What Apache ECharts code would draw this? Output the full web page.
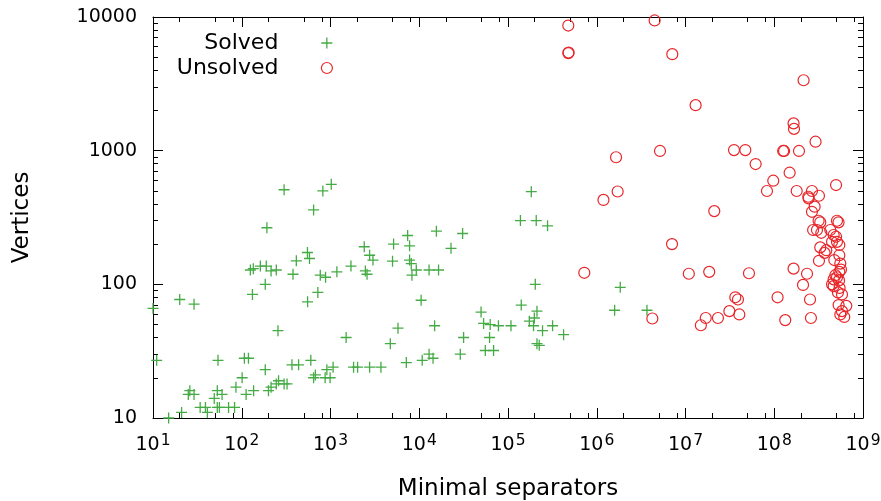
<!DOCTYPE html>
<html><head><meta charset="utf-8">
<script src="https://cdn.jsdelivr.net/npm/echarts/dist/echarts.min.js"></script>
<style>html,body{margin:0;padding:0;background:#fff}#c{width:881px;height:501px}</style>
</head><body><div id="c"></div>
<script>
const solvedX = [300,820,1020,645,192,550,580,412,125,135,162,189,214,245,378,767,880,1180,184,132,720,552,20,29,10,256,11,54,107,119,184,368,437,600,101,86,26,29,25,53,60,49,112,136,200,214,245,260,324,300,645,675,870,990,910,1070,34,39,41,53,56,71,83,21,15,
183000,138000,208000,279000,15600,30800,7400,2400,5140,7780,22800,2760,3010,1700,2470,2580,5000,7780,8130,9260,8280,12900,16500,10500,141000,49700,53100,63000,78000,108000,174000,14900,5760,1500,31600,62000,4720,55500,68800,12900,14300,29000,10800,7150,1820,2020,2760,3700,
203000,1840000,212000,1590000,3680000,198000,194000,245000,318000,423000,212000,225000];
const solvedY = [510,500,560,360,265,173,156,150,128,131,137,137,126,128,119,117,113,124,100,84,87,74,77,71,66,45,27,27,28,28,23,25,25,27,20,17,16,15,15,16,15,14,15,16,16,17,18,19,18,18,20,21,20,20,23,24,12,12,11,12,12,12,12,11,10,
493,300,300,274,250,240,232,191,200,194,186,165,152,137,126,119,149,152,143,128,117,128,128,76,70,62,51,50,49,49,53,49,47,40,40,40,36,32,32,30,28,30,27,26,24,24,24,24,
100,95,63,64,64,56,49,45,49,42,36,35];
const unsolvedX = [4.78e5,4.82e5,4.78e5,4.49e6,7.1e6,1.3e7,1.65e6,5.16e6,1.72e6,1.19e6,7.05e6,7.24e5,1.09e7,4.23e6,1.49e7,
2.14e8,1.65e8,1.67e8,2.92e8,3.52e7,4.72e7,1.29e8,1.26e8,1.9e8,6.17e7,1.49e8,9.75e7,8.28e7,1.79e8,4.97e8,2.66e8,2.42e8,2.44e8,3.19e8,
2.85e8,2.66e8,2.11e7,3.16e8,3.3e8,5.09e8,5.3e8,2.74e8,3.03e8,3.39e8,4.28e8,4.67e8,4.97e8,4.48e8,5.09e8,5.41e8,3.3e8,3.86e8,3.69e8,5.41e8,3.19e8,4.75e8,5.55e8,5.65e8,5.41e8,4.88e8,5.09e8,4.67e8,5.37e8,4.48e8,4.67e8,5.45e8,5.22e8,5.8e8,
1.65e8,2.34e8,2.11e8,2.53e8,1.09e8,5.19e7,1.85e7,3.64e7,3.9e7,3.12e7,4.04e7,2.32e7,1.69e7,1.33e8,2.59e8,5.31e8,6.48e8,5.8e8,5.55e8,6.15e8];
const unsolvedY = [8630,5420,5370,9420,5270,2190,893,995,495,428,200,122,120,55.5,49.4,
3365,1600,1455,1167,1010,1010,995,995,995,794,684,596,499,499,553,499,452,440,460,
381,349,353,299,291,299,291,255,255,243,255,234,227,208,208,197,189,180,172,165,150,152,143,129,124,117,113,109,107,100,97,94,87,84,
131,120,99,77,80,121,124,80,77,63,59.5,56,56,54,56,70,69,63,59.5,57];

const xMajor = [1e1,1e2,1e3,1e4,1e5,1e6,1e7,1e8,1e9];
const yMajor = [10,100,1000,10000];
const xMinorMant = [2,5,8];
const yMinorMant = [2,3,4,5,6,7,8,9];

const GREEN = '#45ab45', RED = '#e8262a';
const FONT = 'DejaVu Sans';
// minor tick positions expressed as decimal exponents (for overlay value axes)
const xMinorExp = [], yMinorExp = [];
xMajor.slice(0,-1).forEach(d => xMinorMant.forEach(m => xMinorExp.push(Math.log10(d*m))));
yMajor.slice(0,-1).forEach(d => yMinorMant.forEach(m => yMinorExp.push(Math.log10(d*m))));

const solved = solvedX.map((x,i) => [x, solvedY[i]]);
const unsolved = unsolvedX.map((x,i) => [x, unsolvedY[i]]);
const PLUS = 'path://M0,5H10M5,0V10';
const LINE = {color: '#000', width: 1};

function xMain(pos, labels) {
  return {
    type: 'log', logBase: 10, min: 10, max: 1e9, position: pos, splitNumber: 8,
    axisLine: {show: true, onZero: false, lineStyle: LINE},
    axisTick: {show: true, inside: true, length: 10, lineStyle: LINE},
    axisLabel: labels ? {show: true, margin: 15, color: '#000', fontFamily: FONT,
      formatter: v => '{b|10}{s|' + Math.round(Math.log10(v)) + '}',
      rich: {b: {fontSize: 19, fontFamily: FONT, color: '#000', lineHeight: 24},
             s: {fontSize: 15.5, fontFamily: FONT, color: '#000', lineHeight: 13, verticalAlign: 'top', padding: [0,0,0,1]}}} : {show: false},
    splitLine: {show: false}, minorTick: {show: false},
    name: labels ? 'Minimal separators' : '', nameLocation: 'middle', nameGap: 60,
    nameTextStyle: {fontSize: 23, fontFamily: FONT, color: '#000'}
  };
}
function yMain(pos, labels) {
  return {
    type: 'log', logBase: 10, min: 10, max: 10000, position: pos, splitNumber: 3,
    axisLine: {show: true, onZero: false, lineStyle: LINE},
    axisTick: {show: true, inside: true, length: 10, lineStyle: LINE},
    axisLabel: labels ? {show: true, margin: 16, color: '#000', fontSize: 19, fontFamily: FONT,
      formatter: v => String(Math.round(v))} : {show: false},
    splitLine: {show: false}, minorTick: {show: false},
    name: labels ? 'Vertices' : '', nameLocation: 'middle', nameGap: 119, nameRotate: 90,
    nameTextStyle: {fontSize: 23, fontFamily: FONT, color: '#000'}
  };
}
function minorAxis(pos, max, ticks) {
  return {
    type: 'value', min: 1, max: max, position: pos,
    axisLine: {show: false, onZero: false},
    axisTick: {show: true, inside: true, length: 5, customValues: ticks, lineStyle: LINE},
    axisLabel: {show: false}, splitLine: {show: false}
  };
}

const legendText = {fontSize: 22, fontFamily: FONT, color: '#000',
  rich: {t: {fontSize: 22, fontFamily: FONT, color: '#000', lineHeight: 26, padding: [0, 38, 0, 0]}}};

const chart = echarts.init(document.getElementById('c'), null, {renderer: 'canvas'});
chart.setOption({
  animation: false,
  backgroundColor: '#fff',
  grid: {left: 153, right: 18, top: 17, bottom: 83, containLabel: false, outerBoundsMode: 'none'},
  xAxis: [xMain('bottom', true), xMain('top', false),
          minorAxis('bottom', 9, xMinorExp), minorAxis('top', 9, xMinorExp)],
  yAxis: [yMain('left', true), yMain('right', false),
          minorAxis('left', 4, yMinorExp), minorAxis('right', 4, yMinorExp)],
  legend: [
    {data: [{name: 'Solved', icon: PLUS, itemStyle: {color: 'transparent', borderColor: GREEN, borderWidth: 1.3}}],
     right: 548, top: 32, padding: 0, align: 'right', itemWidth: 11, itemHeight: 11, selectedMode: false,
     formatter: '{t|{name}}', textStyle: legendText},
    {data: [{name: 'Unsolved', icon: 'circle', itemStyle: {color: 'transparent', borderColor: RED, borderWidth: 1.2}}],
     right: 548, top: 57, padding: 0, align: 'right', itemWidth: 11, itemHeight: 11, selectedMode: false,
     formatter: '{t|{name}}', textStyle: legendText}
  ],
  series: [
    {name: 'Solved', type: 'scatter', data: solved, symbol: PLUS, symbolSize: 11,
     itemStyle: {color: 'transparent', borderColor: GREEN, borderWidth: 1.3, opacity: 1}},
    {name: 'Unsolved', type: 'scatter', data: unsolved, symbol: 'circle', symbolSize: 11,
     itemStyle: {color: 'transparent', borderColor: RED, borderWidth: 1.2, opacity: 1}}
  ]
});
</script>
</body></html>
